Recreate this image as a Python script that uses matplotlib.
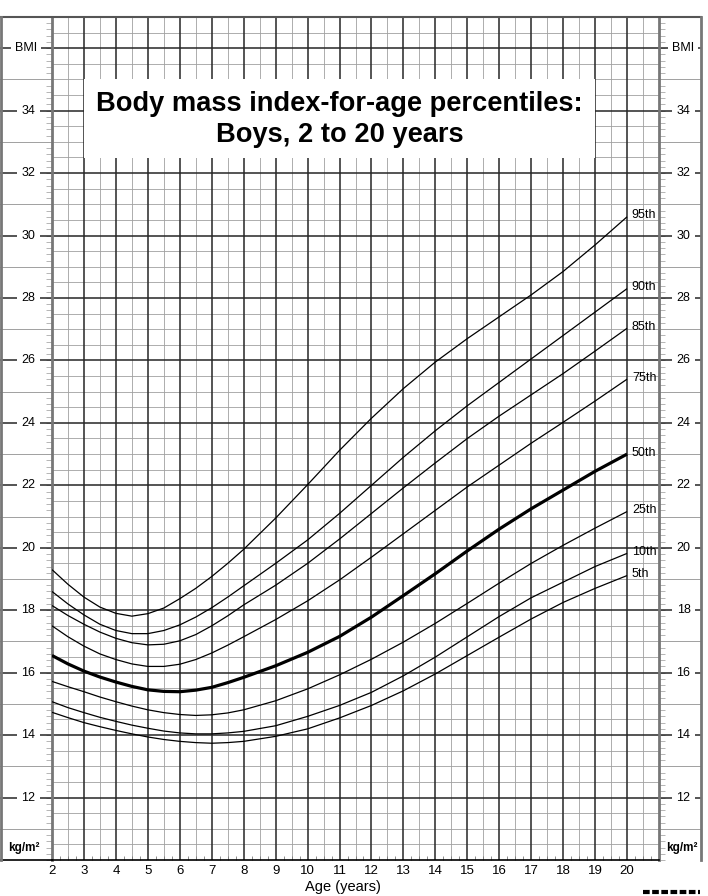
import numpy as np
import matplotlib.pyplot as plt
from matplotlib.lines import Line2D
from matplotlib.patches import Rectangle

plt.rcParams['font.family'] = ['Liberation Sans', 'DejaVu Sans']

ages = [2, 2.5, 3, 3.5, 4, 4.5, 5, 5.5, 6, 6.5, 7, 7.5, 8,
        9, 10, 11, 12, 13, 14, 15, 16, 17, 18, 19, 20]

# BMI (kg/m2) per percentile
p95 = [19.3, 18.83, 18.42, 18.1, 17.9, 17.81, 17.89, 18.07, 18.37, 18.7, 19.08, 19.5, 19.95,
       20.95, 22.02, 23.12, 24.15, 25.1, 25.95, 26.7, 27.4, 28.1, 28.85, 29.7, 30.6]
p90 = [18.6, 18.2, 17.85, 17.55, 17.35, 17.25, 17.25, 17.35, 17.53, 17.78, 18.08, 18.42, 18.78,
       19.5, 20.25, 21.1, 22.0, 22.9, 23.75, 24.55, 25.3, 26.05, 26.8, 27.55, 28.3]
p85 = [18.15, 17.83, 17.55, 17.3, 17.1, 16.96, 16.89, 16.91, 17.02, 17.22, 17.5, 17.82, 18.17,
       18.8, 19.5, 20.28, 21.1, 21.92, 22.72, 23.5, 24.22, 24.9, 25.58, 26.3, 27.03]
p75 = [17.5, 17.15, 16.85, 16.6, 16.42, 16.28, 16.2, 16.2, 16.27, 16.42, 16.63, 16.88, 17.15,
       17.7, 18.3, 18.97, 19.7, 20.45, 21.2, 21.95, 22.65, 23.35, 24.02, 24.7, 25.4]
p50 = [16.55, 16.28, 16.05, 15.86, 15.7, 15.56, 15.45, 15.4, 15.39, 15.44, 15.53, 15.68, 15.85,
       16.22, 16.65, 17.16, 17.78, 18.47, 19.17, 19.9, 20.6, 21.25, 21.85, 22.45, 23.0]
p25 = [15.72, 15.55, 15.39, 15.22, 15.07, 14.93, 14.81, 14.72, 14.66, 14.63, 14.65, 14.71, 14.81,
       15.1, 15.48, 15.93, 16.43, 16.98, 17.58, 18.22, 18.87, 19.5, 20.08, 20.63, 21.16]
p10 = [15.07, 14.88, 14.72, 14.57, 14.44, 14.32, 14.22, 14.13, 14.07, 14.04, 14.04, 14.07, 14.12,
       14.3, 14.6, 14.95, 15.37, 15.9, 16.5, 17.15, 17.8, 18.4, 18.9, 19.4, 19.82]
p5 = [14.73, 14.56, 14.4, 14.27, 14.15, 14.04, 13.94, 13.86, 13.8, 13.76, 13.74, 13.76, 13.8,
      13.96, 14.2, 14.55, 14.95, 15.42, 15.96, 16.55, 17.14, 17.72, 18.25, 18.7, 19.11]

curves = [p95, p90, p85, p75, p50, p25, p10, p5]
curve_labels = ['95th', '90th', '85th', '75th', '50th', '25th', '10th', '5th']

age_ticks = list(range(2, 21))
bmi_labels = list(range(12, 35, 2))

W, H = 708, 896
fig = plt.figure(figsize=(W / 100, H / 100), dpi=100)
ax = fig.add_axes([52 / W, 36 / H, 607 / W, 843 / H])
ax.set_xlim(2, 21)
ax.set_ylim(10, 37)


def px_x(p):
    # pixel column -> age, for the margins outside the grid
    return 2 + (p - 52) * 19 / 607


dark = '#262626'
light = '#a0a0a0'

# vertical grid
for a in np.arange(2.5, 21, 0.5):
    if a == int(a):
        ax.axvline(a, color=dark, lw=1.1, zorder=2)
    else:
        ax.axvline(a, color=light, lw=0.6, zorder=1)

# horizontal grid
for v in np.arange(10.5, 37, 0.5):
    if v == int(v) and int(v) % 2 == 0:
        ax.axhline(v, color=dark, lw=1.1, zorder=2)
    else:
        ax.axhline(v, color=light, lw=0.6, zorder=1)

# margin lines, left and right
for v in range(11, 37):
    c, w = (dark, 1.1) if v % 2 == 0 else (light, 0.7)
    ax.plot([px_x(0), 2], [v, v], color=c, lw=w, clip_on=False, zorder=2)
    ax.plot([21, px_x(701)], [v, v], color=c, lw=w, clip_on=False, zorder=2)

# frame
ax.plot([px_x(0), px_x(701)], [37, 37], color='#555555', lw=1.5, clip_on=False, zorder=3)
ax.plot([px_x(0), 2], [10, 10], color='black', lw=1.2, clip_on=False, zorder=3)
ax.plot([px_x(1), px_x(1)], [10, 37], color='#777777', lw=2, clip_on=False, zorder=3)
ax.plot([px_x(701), px_x(701)], [10, 37], color='#777777', lw=2, clip_on=False, zorder=3)
for s in ['left', 'right']:
    ax.spines[s].set_color('#777777')
    ax.spines[s].set_linewidth(2)
ax.spines['bottom'].set_linewidth(1.2)
ax.spines['top'].set_visible(False)

# ticks
ax.set_xticks(age_ticks)
ax.set_xticklabels([str(a) for a in age_ticks], fontsize=9.5)
ax.set_xticks(np.arange(2, 21.01, 0.25), minor=True)
ax.tick_params(axis='x', which='major', length=0, pad=3.5)
ax.tick_params(axis='x', which='minor', direction='in', length=3, width=0.6, color='#777777')
ax.set_yticks([])
ax.set_yticks(np.arange(10, 37.01, 0.2), minor=True)
ax.tick_params(axis='y', which='minor', direction='out', length=4, width=0.5,
               color='#999999', left=True, right=True)

# margin labels
box = dict(facecolor='white', edgecolor='none', pad=3)
for v in bmi_labels:
    ax.text(px_x(28.5), v, str(v), ha='center', va='center', fontsize=9,
            bbox=box, clip_on=False, zorder=5)
    ax.text(px_x(683.5), v, str(v), ha='center', va='center', fontsize=9,
            bbox=box, clip_on=False, zorder=5)
ax.text(px_x(26), 36, 'BMI', ha='center', va='center', fontsize=9,
        bbox=box, clip_on=False, zorder=5)
ax.text(px_x(683), 36, 'BMI', ha='center', va='center', fontsize=9,
        bbox=box, clip_on=False, zorder=5)
ax.text(px_x(8), 10.4, 'kg/m²', ha='left', va='center', fontsize=8.5,
        fontweight='bold', clip_on=False, zorder=5)
ax.text(px_x(666), 10.4, 'kg/m²', ha='left', va='center', fontsize=8.5,
        fontweight='bold', clip_on=False, zorder=5)

# title box
ax.add_patch(Rectangle((3, 32.5), 16, 2.5, facecolor='white', edgecolor='none', zorder=3))
ax.text(11, 34.22, 'Body mass index-for-age percentiles:', ha='center', va='center',
        fontsize=19.6, fontweight='bold', zorder=4)
ax.text(11, 33.23, 'Boys, 2 to 20 years', ha='center', va='center',
        fontsize=19.6, fontweight='bold', zorder=4)

# percentile curves
for vals, lab in zip(curves, curve_labels):
    lw = 2.3 if lab == '50th' else 0.9
    ax.plot(ages, vals, color='black', lw=lw, zorder=4, solid_capstyle='butt')
    ax.text(20.15, vals[-1] + 0.05, lab, ha='left', va='center', fontsize=9, zorder=5)

fig.text(343 / W, 1 - 887 / H, 'Age (years)', ha='center', va='center', fontsize=10.5)
fig.add_artist(Line2D([643 / W, 700 / W], [1 - 892 / H] * 2, color='black', lw=3,
                      linestyle=(0, (1.6, 0.6))))

fig.savefig('out.png', dpi=100)
